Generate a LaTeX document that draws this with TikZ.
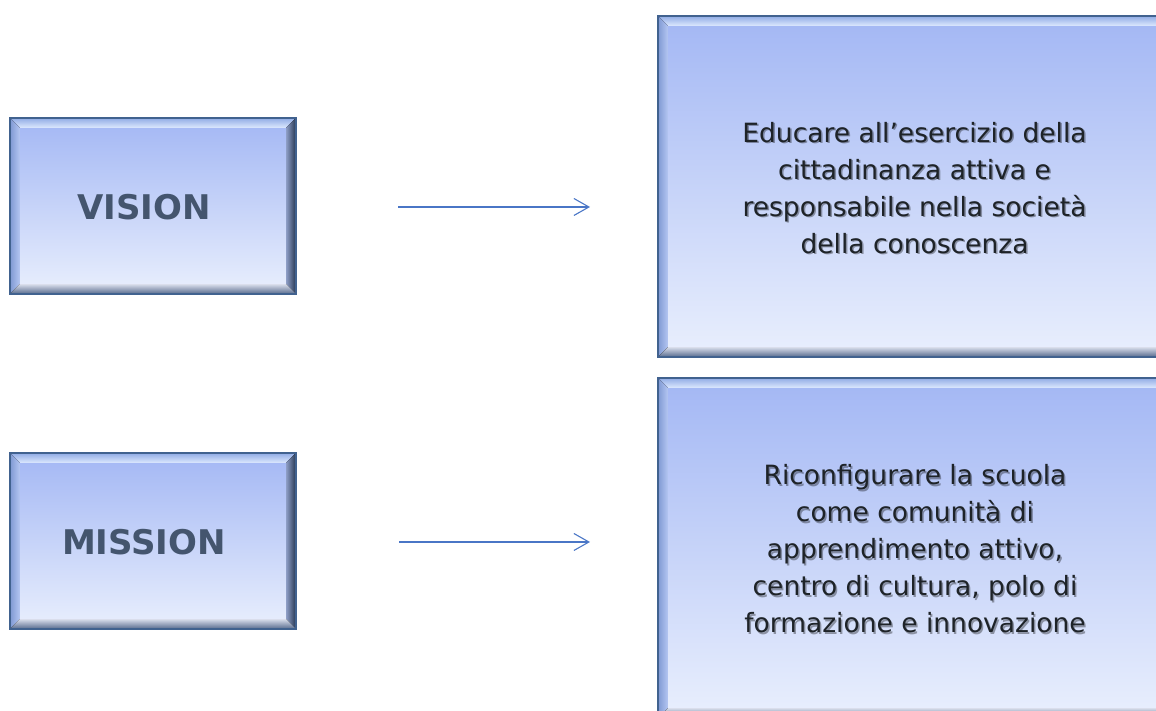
\documentclass[tikz,border=0pt]{standalone}
\usepackage{fontspec}
\setmainfont{DejaVu Sans}
\usetikzlibrary{arrows.meta,calc}
\definecolor{fillTop}{HTML}{A3B7F4}
\definecolor{fillBot}{HTML}{E9EFFD}
\definecolor{edgeLine}{HTML}{41628F}
\definecolor{bevTopA}{HTML}{8FAAE4}
\definecolor{bevTopB}{HTML}{DCE8FE}
\definecolor{bevLeftA}{HTML}{7E98D2}
\definecolor{bevLeftB}{HTML}{B4C6F2}
\definecolor{bevRightA}{HTML}{8C9CC4}
\definecolor{bevRightB}{HTML}{23344F}
\definecolor{bevBotA}{HTML}{D7DCEA}
\definecolor{bevBotB}{HTML}{53678A}
\definecolor{labelDark}{HTML}{44556E}
\definecolor{bodyText}{HTML}{1E2328}
\definecolor{arrowBlue}{HTML}{4A76C6}
\tikzset{
  panel/.style={rectangle, inner sep=0pt, top color=fillTop, bottom color=fillBot, draw=none},
  biglabel/.style={font=\fontsize{34}{40}\selectfont\bfseries, text=labelDark},
  bodylabel/.style={font=\fontsize{26.5}{37}\selectfont, text=bodyText, align=center},
  shadowlabel/.style={font=\fontsize{26.5}{37}\selectfont, text=black, opacity=0.35, align=center},
  linkarrow/.style={draw=arrowBlue, line width=1.1pt, -{Straight Barb[length=15pt,width=17pt,line width=1.1pt]}}
}
\newcommand{\bevelpanel}[1]{%
  \fill[top color=bevTopA, bottom color=bevTopB]
    (#1.north west) -- (#1.north east) -- ($(#1.north east)+(-10,-10)$) -- ($(#1.north west)+(10,-10)$) -- cycle;
  \fill[left color=bevLeftA, right color=bevLeftB]
    (#1.north west) -- ($(#1.north west)+(10,-10)$) -- ($(#1.south west)+(10,10)$) -- (#1.south west) -- cycle;
  \fill[left color=bevRightA, right color=bevRightB]
    (#1.north east) -- ($(#1.north east)+(-10,-10)$) -- ($(#1.south east)+(-10,10)$) -- (#1.south east) -- cycle;
  \fill[top color=bevBotA, bottom color=bevBotB]
    (#1.south west) -- ($(#1.south west)+(10,10)$) -- ($(#1.south east)+(-10,10)$) -- (#1.south east) -- cycle;
  \draw[edgeLine, line width=2pt] (#1.north west) rectangle (#1.south east);
}
\begin{document}
\begin{tikzpicture}[x=1pt,y=1pt]
\useasboundingbox (0,0) rectangle (1156,711);
\clip (0,0) rectangle (1156,711);
% panels
\node[panel, minimum width=286, minimum height=176] (vis) at (153,505) {};
\bevelpanel{vis}
\node[panel, minimum width=286, minimum height=176] (mis) at (153,170) {};
\bevelpanel{mis}
\node[panel, minimum width=508, minimum height=341] (visd) at (912,524.5) {};
\bevelpanel{visd}
\node[panel, minimum width=508, minimum height=340] (misd) at (912,163) {};
\bevelpanel{misd}
% labels
\node[biglabel] (vist) at (144,504) {VISION};
\node[biglabel] (mist) at (144,169) {MISSION};
\node[shadowlabel] (visds) at (916,521.5) {Educare all’esercizio della\\cittadinanza attiva e\\responsabile nella società\\della conoscenza};
\node[bodylabel] (visdt) at (914.5,523) {Educare all’esercizio della\\cittadinanza attiva e\\responsabile nella società\\della conoscenza};
\node[shadowlabel] (misds) at (916.5,160.5) {Riconfigurare la scuola\\come comunità di\\apprendimento attivo,\\centro di cultura, polo di\\formazione e innovazione};
\node[bodylabel] (misdt) at (915,162) {Riconfigurare la scuola\\come comunità di\\apprendimento attivo,\\centro di cultura, polo di\\formazione e innovazione};
% arrows
\coordinate (a1s) at (398,504);
\coordinate (a1e) at (590,504);
\coordinate (a2s) at (399,169);
\coordinate (a2e) at (590,169);
\draw[linkarrow] (a1s) -- (a1e);
\draw[linkarrow] (a2s) -- (a2e);
\end{tikzpicture}
\end{document}
